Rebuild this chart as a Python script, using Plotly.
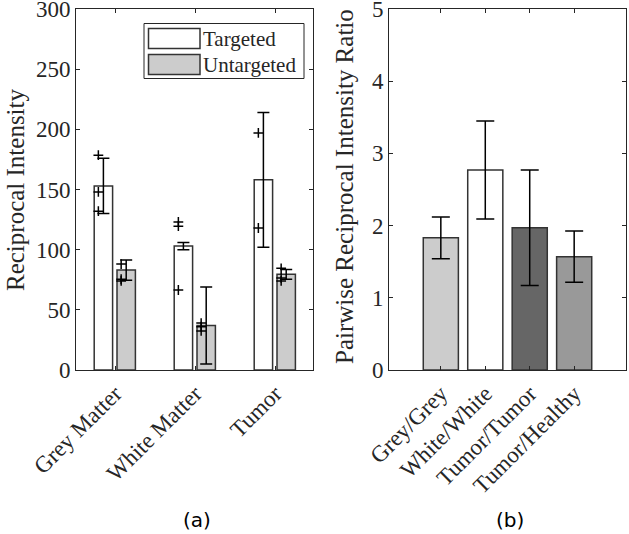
import plotly.graph_objects as go

# ---------------- data ----------------
regions = ["Grey Matter", "White Matter", "Tumor"]
targeted_mean = [153, 103, 158]
targeted_err = [23, 3, 56]
untargeted_mean = [83, 37, 79.5]
untargeted_err = [8.5, 32, 4]
targeted_points = [[178.5, 148, 132], [123, 119.5, 66.5], [197, 118]]
untargeted_points = [[88, 75.5, 74], [39, 36, 32.5], [84.5, 76.5, 74]]

pairs = ["Grey/Grey", "White/White", "Tumor/Tumor", "Tumor/Healthy"]
ratio_mean = [1.83, 2.77, 1.97, 1.57]
ratio_err = [0.29, 0.68, 0.80, 0.355]

left_ticks = [0, 50, 100, 150, 200, 250, 300]
right_ticks = [0, 1, 2, 3, 4, 5]

# ---------------- style ----------------
W, H = 629, 534
SERIF = "Liberation Serif"
SANS = "DejaVu Sans"
AX = "#262626"
EDGE = "#333333"
T_COLOR = "#ffffff"
U_COLOR = "#cccccc"
ratio_colors = ["#cccccc", "#ffffff", "#666666", "#999999"]

def px(x):
    return x / W

def py(y):
    return 1 - y / H

BW = 0.23
T_OFF = -0.145
U_OFF = 0.14
PT_SHIFT = -0.063

cats = [i + 1 for i in range(len(regions))]

fig = go.Figure()

fig.add_trace(go.Bar(
    x=cats, y=targeted_mean, width=BW, offset=T_OFF - BW / 2,
    marker=dict(color=T_COLOR, line=dict(color=EDGE, width=1.5)),
    error_y=dict(type="data", array=targeted_err, color="#000000", thickness=1.5, width=6),
    name="Targeted", showlegend=False, xaxis="x", yaxis="y"))
fig.add_trace(go.Bar(
    x=cats, y=untargeted_mean, width=BW, offset=U_OFF - BW / 2,
    marker=dict(color=U_COLOR, line=dict(color=EDGE, width=1.5)),
    error_y=dict(type="data", array=untargeted_err, color="#000000", thickness=1.5, width=6),
    name="Untargeted", showlegend=False, xaxis="x", yaxis="y"))

tx, ty, ux, uy = [], [], [], []
for c, pts in zip(cats, targeted_points):
    for v in pts:
        tx.append(c + T_OFF + PT_SHIFT)
        ty.append(v)
for c, pts in zip(cats, untargeted_points):
    for v in pts:
        ux.append(c + U_OFF + PT_SHIFT)
        uy.append(v)
for xs, ys in ((tx, ty), (ux, uy)):
    fig.add_trace(go.Scatter(
        x=xs, y=ys, mode="markers",
        marker=dict(symbol="cross-thin", size=7, line=dict(color="#000000", width=1.5)),
        showlegend=False, xaxis="x", yaxis="y"))

rcats = [i + 1 for i in range(len(pairs))]
fig.add_trace(go.Bar(
    x=rcats, y=ratio_mean, width=0.79,
    marker=dict(color=ratio_colors, line=dict(color=EDGE, width=1.5)),
    error_y=dict(type="data", array=ratio_err, color="#000000", thickness=1.5, width=9),
    showlegend=False, xaxis="x2", yaxis="y2"))

def axis_common():
    return dict(
        showline=True, linecolor=AX, linewidth=1, mirror="ticks",
        ticks="inside", ticklen=4, tickcolor=AX, tickwidth=1,
        showgrid=False, zeroline=False, automargin=False,
        ticklabeloverflow="allow",
        tickfont=dict(family=SERIF, size=23, color=AX),
    )

fig.update_layout(
    width=W, height=H,
    margin=dict(l=0, r=0, t=0, b=0),
    paper_bgcolor="white", plot_bgcolor="white",
    font=dict(family=SERIF, color=AX),
    barmode="overlay",
    xaxis=dict(domain=[px(76), px(313)], range=[0.5125, 3.475],
               tickvals=cats, ticktext=regions, tickangle=-45, anchor="y", **axis_common()),
    yaxis=dict(domain=[py(370), py(9)], range=[0, 300], tickvals=left_ticks,
               anchor="x", **axis_common()),
    xaxis2=dict(domain=[px(389), px(626)], range=[-0.166, 5.166],
                tickvals=rcats, ticktext=pairs, tickangle=-45, anchor="y2", **axis_common()),
    yaxis2=dict(domain=[py(370), py(9)], range=[0, 5], tickvals=right_ticks,
                anchor="x2", **axis_common()),
)

# legend drawn as patches + labels in the left panel
shapes = [
    dict(type="rect", xref="paper", yref="paper", x0=px(144), x1=px(304), y0=py(23.5), y1=py(78.5),
         line=dict(color=AX, width=1), fillcolor="white", layer="above"),
    dict(type="rect", xref="paper", yref="paper", x0=px(148.5), x1=px(200), y0=py(28.5), y1=py(48.5),
         line=dict(color=EDGE, width=1.5), fillcolor=T_COLOR, layer="above"),
    dict(type="rect", xref="paper", yref="paper", x0=px(148.5), x1=px(200), y0=py(54.5), y1=py(74.5),
         line=dict(color=EDGE, width=1.5), fillcolor=U_COLOR, layer="above"),
]
annotations = [
    dict(text="Targeted", xref="paper", yref="paper", x=px(201), y=py(38.5),
         xanchor="left", yanchor="middle", showarrow=False, font=dict(family=SERIF, size=21, color=AX)),
    dict(text="Untargeted", xref="paper", yref="paper", x=px(201), y=py(64.5),
         xanchor="left", yanchor="middle", showarrow=False, font=dict(family=SERIF, size=21, color=AX)),
    dict(text="Reciprocal Intensity", xref="paper", yref="paper", x=px(15), y=py(190),
         xanchor="center", yanchor="middle", textangle=-90, showarrow=False,
         font=dict(family=SERIF, size=25, color=AX)),
    dict(text="Pairwise Reciprocal Intensity Ratio", xref="paper", yref="paper", x=px(344), y=py(187),
         xanchor="center", yanchor="middle", textangle=-90, showarrow=False,
         font=dict(family=SERIF, size=25, color=AX)),
    dict(text="(a)", xref="paper", yref="paper", x=px(197), y=py(520),
         xanchor="center", yanchor="middle", showarrow=False, font=dict(family=SANS, size=20, color="#000000")),
    dict(text="(b)", xref="paper", yref="paper", x=px(510), y=py(520),
         xanchor="center", yanchor="middle", showarrow=False, font=dict(family=SANS, size=20, color="#000000")),
]
fig.update_layout(shapes=shapes, annotations=annotations)

fig.write_html("out.html", config={"displayModeBar": False},
               post_script="document.body.style.margin='0';document.body.style.overflow='hidden';")
